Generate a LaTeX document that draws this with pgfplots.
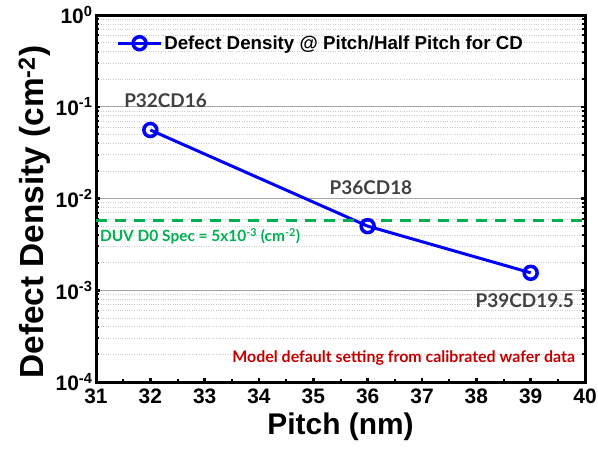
\documentclass[border=0pt]{standalone}
\usepackage{pgfplots}
\pgfplotsset{compat=1.18}
\usepackage{fontspec}
\setmainfont{Liberation Sans}
\newfontfamily\gill{Lato}
\definecolor{specgreen}{RGB}{0,176,80}
\definecolor{annred}{RGB}{192,0,0}
\definecolor{anngray}{RGB}{64,64,64}
\begin{document}
\begin{tikzpicture}
\begin{axis}[
  name=ax,
  scale only axis,
  width=489bp, height=367bp,
  xmin=31, xmax=40,
  ymode=log, ymin=1e-4, ymax=1,
  xtick={31,32,...,40},
  minor x tick num=1,
  ytick={1e-4,1e-3,1e-2,1e-1,1},
  yticklabels={10\textsuperscript{-4},10\textsuperscript{-3},10\textsuperscript{-2},10\textsuperscript{-1},10\textsuperscript{0}},
  xticklabels={31,32,33,34,35,36,37,38,39,40},
  tick align=inside,
  axis line style={line width=3bp},
  major tick style={line width=2.5bp, black},
  minor tick style={line width=2bp, black},
  major tick length=4bp, minor tick length=3bp,
  xtick pos=bottom,
  ymajorgrids, yminorgrids,
  major grid style={gray!70, line width=0.8bp},
  minor grid style={gray!40, dotted, line width=0.6bp},
  ticklabel style={font=\bfseries\fontsize{21}{23}\selectfont},
  xticklabel style={yshift=-3bp},
  xlabel={\bfseries Pitch (nm)},
  ylabel={\bfseries Defect Density (cm\textsuperscript{-2})},
  xlabel style={font=\bfseries\fontsize{30}{32}\selectfont, yshift=-3bp},
  ylabel style={font=\bfseries\fontsize{33.5}{35}\selectfont, at={(ticklabel cs:0.463)}, yshift=-2bp},
  legend style={at={(0.036,0.955)}, anchor=north west, draw=none, fill=none,
    font=\bfseries\fontsize{18.8}{21}\selectfont},
  legend cell align=left,
  legend image code/.code={\draw[mark repeat=2,mark phase=2] plot coordinates {(0cm,0cm)(0.75cm,0cm)(1.5cm,0cm)};},
]
\addplot[blue, line width=3bp, mark=o, mark size=6.5bp, mark options={fill=white, line width=3.5bp}]
  coordinates {(32,0.0558)(36,0.0050)(39,0.00155)};
\addlegendentry{Defect Density @ Pitch/Half Pitch for CD}
\addplot[specgreen, line width=3bp, dash pattern=on 11bp off 8bp, forget plot]
  coordinates {(31,0.0058)(40,0.0058)};
\node[anngray, font=\gill\bfseries\fontsize{19}{21}\selectfont] at (axis cs:32.28,0.1156) {P32CD16};
\node[anngray, font=\gill\bfseries\fontsize{19}{21}\selectfont] at (axis cs:36.06,0.01318) {P36CD18};
\node[anngray, font=\gill\bfseries\fontsize{19}{21}\selectfont] at (axis cs:38.89,0.000773) {P39CD19.5};
\node[specgreen, anchor=west, inner sep=0pt, font=\gill\bfseries\fontsize{15.5}{17}\selectfont] at (axis cs:31.07,0.0039) {DUV D0 Spec = 5x10\textsuperscript{-3} (cm\textsuperscript{-2})};
\node[annred, anchor=east, inner sep=0pt, font=\gill\bfseries\fontsize{16}{18}\selectfont] at (axis cs:39.82,0.000183) {Model default setting from calibrated wafer data};
\end{axis}
\pgfresetboundingbox
\path ([xshift=-96bp,yshift=-71bp]ax.south west) rectangle ([xshift=13bp,yshift=15bp]ax.north east);
\end{tikzpicture}
\end{document}
